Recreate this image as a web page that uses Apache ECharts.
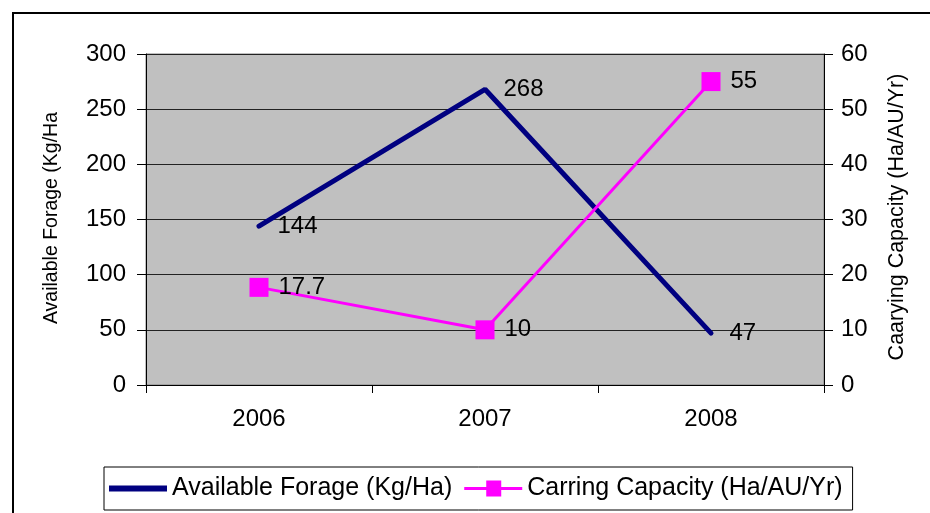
<!DOCTYPE html>
<html>
<head>
<meta charset="utf-8">
<script src="https://cdn.jsdelivr.net/npm/echarts@6/dist/echarts.min.js"></script>
<style>
html,body{margin:0;padding:0;background:#fff;}
#chart{width:930px;height:513px;}
</style>
</head>
<body>
<div id="chart"></div>
<script>
var years = ['2006', '2007', '2008'];
var forage = [144, 268, 47];
var capacity = [17.7, 10, 55];
var forageName = 'Available Forage (Kg/Ha)';
var capacityName = 'Carring Capacity (Ha/AU/Yr)';
var leftAxisTitle = 'Available Forage (Kg/Ha';
var rightAxisTitle = 'Caarying Capacity (Ha/AU/Yr)';

var FONT = '"Liberation Sans", Arial, sans-serif';
var chart = echarts.init(document.getElementById('chart'));
chart.setOption({
  animation: false,
  backgroundColor: '#fff',
  textStyle: {fontFamily: FONT},
  graphic: [
    {type: 'rect', shape: {x: 13, y: 13, width: 1000, height: 600},
     style: {fill: 'none', stroke: '#000', lineWidth: 2}, z: 0, silent: true},
    {type: 'text', x: 52, y: 218, rotation: Math.PI / 2,
     style: {text: leftAxisTitle, font: '19.5px ' + FONT, fill: '#000', align: 'center', verticalAlign: 'middle'}},
    {type: 'text', x: 897, y: 217, rotation: Math.PI / 2,
     style: {text: rightAxisTitle, font: '21.5px ' + FONT, fill: '#000', align: 'center', verticalAlign: 'middle'}}
  ],
  grid: {left: 146, right: 106, top: 54, bottom: 128, show: true, backgroundColor: '#C0C0C0', borderColor: '#808080', borderWidth: 1},
  legend: {
    left: 104, top: 467,
    itemWidth: 58, itemHeight: 18, itemGap: 12,
    padding: [9, 10, 9, 5],
    borderColor: '#000', borderWidth: 1,
    textStyle: {fontSize: 25, color: '#000', fontFamily: FONT},
    data: [
      {name: forageName, icon: 'path://M0,0H58V6H0Z'},
      {name: capacityName, icon: 'path://M0,7.5H22V1H37V7.5H58V10.5H37V17H22V10.5H0Z'}
    ]
  },
  xAxis: {
    type: 'category', data: years, boundaryGap: true,
    axisLine: {lineStyle: {color: '#000', width: 1}},
    axisTick: {show: true, length: 8, lineStyle: {color: '#000'}},
    axisLabel: {fontSize: 24, color: '#000', margin: 22, fontFamily: FONT}
  },
  yAxis: [
    {type: 'value', min: 0, max: 300, interval: 50,
     axisLine: {show: true, lineStyle: {color: '#000'}},
     axisTick: {show: true, length: 9, lineStyle: {color: '#000'}},
     axisLabel: {fontSize: 24, color: '#000', margin: 20, fontFamily: FONT},
     splitLine: {show: true, lineStyle: {color: '#222', width: 1}}},
    {type: 'value', min: 0, max: 60, interval: 10, position: 'right',
     axisLine: {show: true, lineStyle: {color: '#000'}},
     axisTick: {show: true, length: 9, lineStyle: {color: '#000'}},
     axisLabel: {fontSize: 24, color: '#000', margin: 17, fontFamily: FONT},
     splitLine: {show: false}}
  ],
  series: [
    {name: forageName, type: 'line', data: forage, yAxisIndex: 0,
     symbol: 'circle', symbolSize: 1,
     lineStyle: {color: '#000080', width: 5, cap: 'round'},
     itemStyle: {color: '#000080'},
     label: {show: true, position: 'right', distance: 18, fontSize: 24, color: '#000', fontFamily: FONT}},
    {name: capacityName, type: 'line', data: capacity, yAxisIndex: 1,
     symbol: 'rect', symbolSize: 19,
     lineStyle: {color: '#FF00FF', width: 3},
     itemStyle: {color: '#FF00FF'},
     label: {show: true, position: 'right', distance: 10, fontSize: 24, color: '#000', fontFamily: FONT}}
  ]
});
</script>
</body>
</html>
